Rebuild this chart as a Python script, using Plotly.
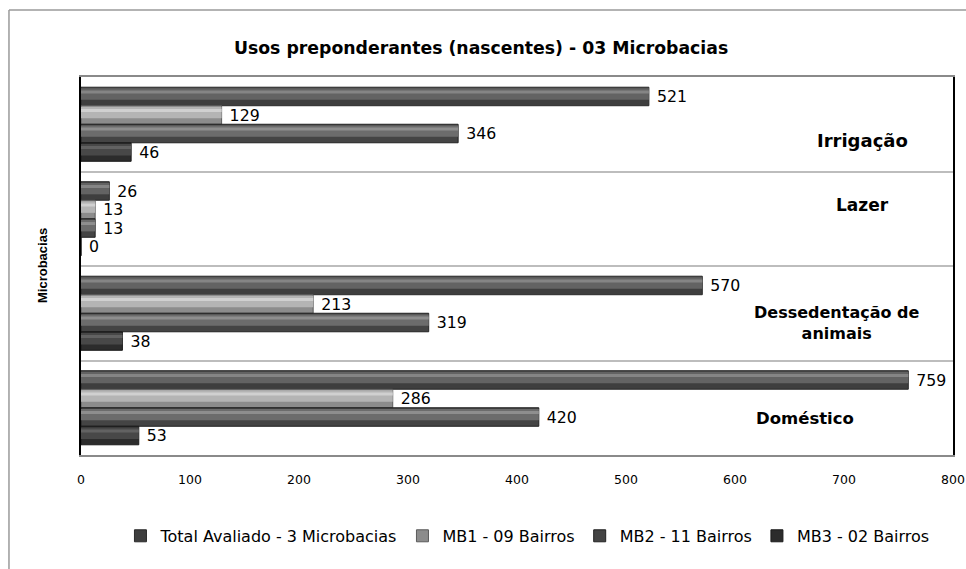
import plotly.graph_objects as go

# Categories (top to bottom) and series values
categorias = ["Irrigação", "Lazer", "Dessedentação de animais", "Doméstico"]
series = ["Total Avaliado - 3 Microbacias", "MB1 - 09 Bairros", "MB2 - 11 Bairros", "MB3 - 02 Bairros"]
total_avaliado = [521, 26, 570, 759]
mb1_09_bairros = [129, 13, 213, 286]
mb2_11_bairros = [346, 13, 319, 420]
mb3_02_bairros = [46, 0, 38, 53]
valores = [total_avaliado, mb1_09_bairros, mb2_11_bairros, mb3_02_bairros]
x_ticks = [0, 100, 200, 300, 400, 500, 600, 700, 800]

# Shaded grey tones per series: (bottom edge, body, highlight, outline)
tons = [
    ("#3e3e3e", "#636363", "#858585", "#2a2a2a"),
    ("#8c8c8c", "#b4b4b4", "#d0d0d0", "#5a5a5a"),
    ("#444444", "#6c6c6c", "#8e8e8e", "#222222"),
    ("#2c2c2c", "#484848", "#626262", "#1a1a1a"),
]

FONT = "DejaVu Sans, Arial, sans-serif"
FONT_Y = "Liberation Sans, Arial, sans-serif"
largura = 0.196
inicio = -0.392

fig = go.Figure()
for i, (nome, vals) in enumerate(zip(series, valores)):
    fundo, corpo, brilho, borda = tons[i]
    off = inicio + i * largura
    # base bar with outline and value label
    fig.add_trace(go.Bar(
        y=categorias, x=vals, orientation="h", name=nome,
        offset=off, width=largura,
        marker=dict(color=fundo, line=dict(color=borda, width=1)),
        text=["\u00a0" + str(v) for v in vals], textposition="outside",
        textfont=dict(family=FONT, size=17, color="#000000"),
        cliponaxis=False,
    ))
    # upper body shading
    fig.add_trace(go.Bar(
        y=categorias, x=vals, orientation="h", showlegend=False, hoverinfo="skip",
        offset=off + 0.012, width=largura * 0.62,
        marker=dict(color=corpo, line=dict(width=0)),
    ))
    # light highlight stripe
    fig.add_trace(go.Bar(
        y=categorias, x=vals, orientation="h", showlegend=False, hoverinfo="skip",
        offset=off + 0.035, width=largura * 0.16,
        marker=dict(color=brilho, line=dict(width=0)),
    ))

# Category names drawn inside the plot area on the right
rotulos = [
    ("<b>Irrigação</b>", 717, "Irrigação", -16, 18),
    ("<b>Lazer</b>", 717, "Lazer", 14, 17),
    ("<b>Dessedentação de<br>animais</b>", 693, "Dessedentação de animais", -10, 16),
    ("<b>Doméstico</b>", 664, "Doméstico", -11, 16.5),
]
for txt, xv, cat, ys, fs in rotulos:
    fig.add_annotation(x=xv, y=cat, text=txt, showarrow=False, yshift=ys,
                       font=dict(family=FONT, size=fs, color="#000000"),
                       xanchor="center", yanchor="middle", align="center")

# Y axis title
fig.add_annotation(x=-0.0447, y=0.5, xref="paper", yref="paper",
                   text="<b>Microbacias</b>", textangle=-90, showarrow=False,
                   font=dict(family=FONT_Y, size=13, color="#000000"),
                   xanchor="center", yanchor="middle")

# Outer chart frame (top and left edges)
fig.add_shape(type="line", xref="paper", yref="paper", x0=-0.0826, x1=1.02, y0=1.177, y1=1.177,
              line=dict(color="#9a9a9a", width=1.5))
fig.add_shape(type="line", xref="paper", yref="paper", x0=-0.0826, x1=-0.0826, y0=1.177, y1=-0.31,
              line=dict(color="#9a9a9a", width=1.5))

fig.update_layout(
    width=966, height=569,
    margin=dict(l=81, r=13, t=77, b=114, autoexpand=False),
    paper_bgcolor="#ffffff", plot_bgcolor="#ffffff",
    barmode="overlay",
    showlegend=True,
    title=dict(text="<b>Usos preponderantes (nascentes) - 03 Microbacias</b>",
               x=0.498, xanchor="center", y=1 - 48 / 569, yanchor="middle",
               font=dict(family=FONT, size=17.3, color="#000000")),
    legend=dict(orientation="h", x=0.512, xanchor="center", y=-0.214, yanchor="middle",
                font=dict(family=FONT, size=16, color="#000000"),
                itemwidth=30, traceorder="normal"),
    xaxis=dict(range=[0, 800], tickvals=x_ticks, ticktext=[str(t) for t in x_ticks],
               showgrid=False, zeroline=False, ticks="", ticklabelstandoff=12,
               tickfont=dict(family=FONT, size=12.5, color="#000000"),
               showline=True, linecolor="#8a8a8a", linewidth=1.5, mirror=True),
    yaxis=dict(categoryorder="array", categoryarray=categorias, autorange="reversed",
               showticklabels=False, ticks="", tickson="boundaries",
               showgrid=True, gridcolor="#bdbdbd", gridwidth=1.5,
               zeroline=False, showline=True, linecolor="#000000", linewidth=1.5, mirror=True),
)

fig.write_html("out.html")
